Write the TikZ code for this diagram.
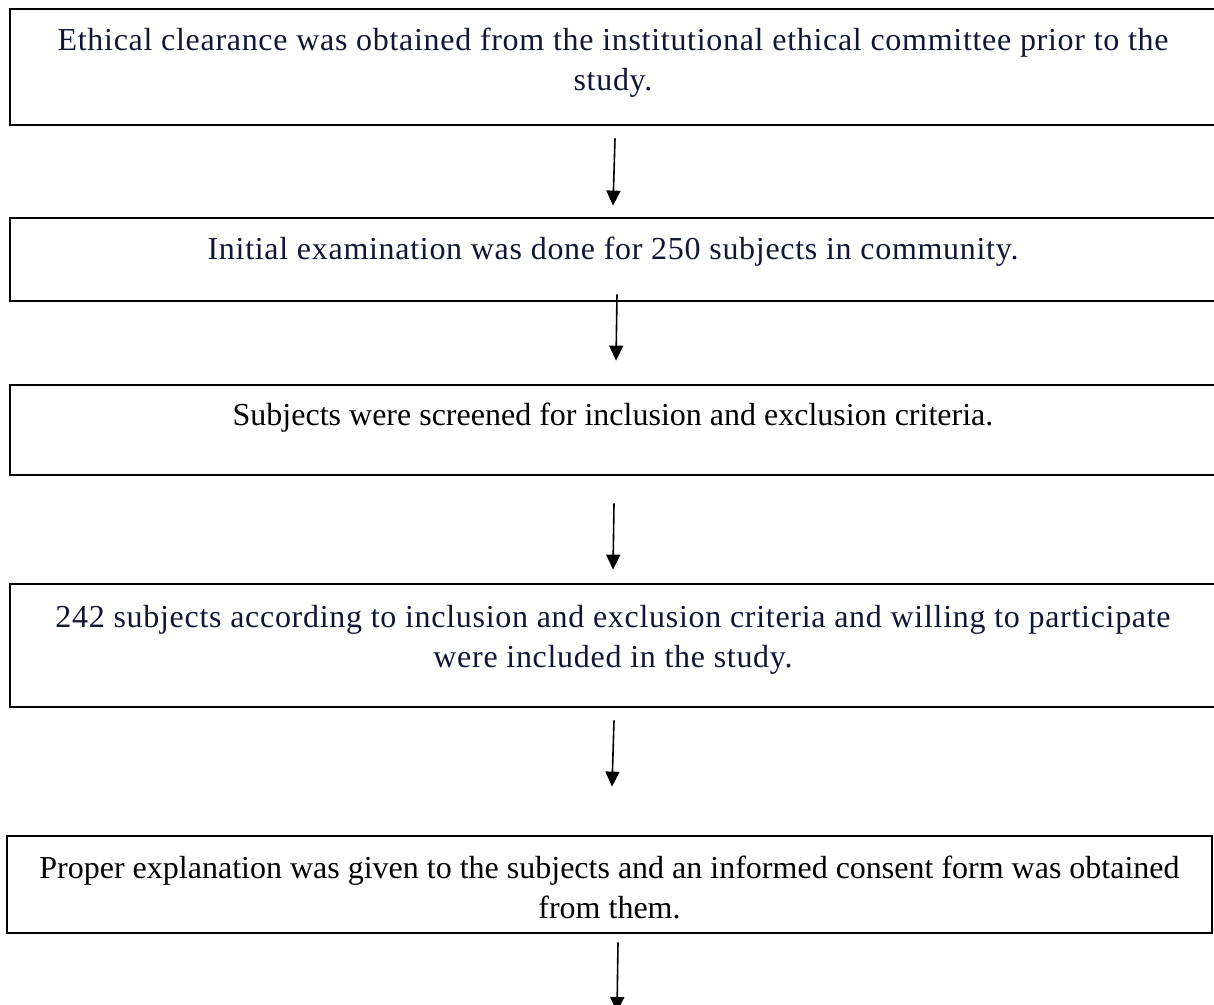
\documentclass[tikz,border=0pt]{standalone}
\usepackage{fontspec}
\setmainfont{Liberation Serif}
\usepackage{tikz}
\usetikzlibrary{arrows.meta,positioning}
\definecolor{inknavy}{RGB}{16,22,52}

\begin{document}
\begin{tikzpicture}[x=1pt, y=-1pt,
  stage/.style={draw, line width=2.8pt, minimum width=1206pt, inner sep=0pt,
    align=center, font=\fontsize{32}{40}\selectfont},
  spaced/.style={text=inknavy, font=\fontsize{32}{40}\selectfont\addfontfeature{LetterSpace=2.2}},
  flow/.style={line width=1.6pt, -{Triangle[length=15pt,width=14pt]}}]
\useasboundingbox (0,0) rectangle (1214,1004);
\clip (0,0) rectangle (1214,1004);
\node [stage, spaced, minimum height=116pt, text height=66pt, text depth=20pt] (ethics) at (613,67) {Ethical clearance was obtained from the institutional ethical committee prior to the\\ study.};
\node [stage, spaced, minimum height=83pt, text height=20pt, text depth=21pt] (exam) at (613,259.5) {Initial examination was done for 250 subjects in community.};
\node [stage, minimum height=90pt, text height=20pt, text depth=30pt] (screen) at (613,430) {Subjects were screened for inclusion and exclusion criteria.};
\node [stage, spaced, minimum height=123pt, text height=63pt, text depth=20pt] (included) at (613,645.5) {242 subjects according to inclusion and exclusion criteria and willing to participate\\ were included in the study.};
\node [stage, minimum width=1205pt, minimum height=97pt, text height=77pt, text depth=10pt] (consent) at (609.5,884.5) {Proper explanation was given to the subjects and an informed consent form was obtained\\ from them.};
\coordinate (next) at (617,1012);
%arrows between the steps
\draw[flow] ([xshift=2pt, yshift=-12pt]ethics.south) -- ([yshift=11pt]exam.north);
\draw[flow] ([xshift=4pt, yshift=8pt]exam.south) -- ([xshift=3pt, yshift=23pt]screen.north);
\draw[flow] ([xshift=1pt, yshift=-27pt]screen.south) -- ([yshift=13pt]included.north);
\draw[flow] ([xshift=1pt, yshift=-12pt]included.south) -- ([xshift=2.5pt, yshift=48pt]consent.north);
\draw[flow] ([xshift=8.5pt, yshift=-8pt]consent.south) -- (next);
\end{tikzpicture}
\end{document}
